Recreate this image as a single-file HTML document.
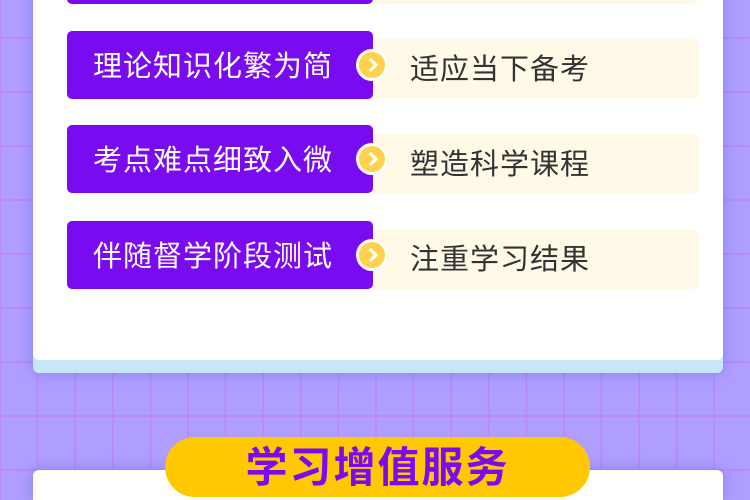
<!DOCTYPE html>
<html style="width:750px;height:500px;overflow:hidden"><head><meta charset="utf-8"><style>
*{margin:0;padding:0;box-sizing:border-box}
body{width:750px;height:500px;overflow:hidden;position:relative;font-family:"Liberation Sans","Noto Sans CJK SC",sans-serif;
background-color:#b09eff;
background-image:linear-gradient(#b98af9 2px,transparent 2px),linear-gradient(90deg,#b98af9 2px,transparent 2px);
background-size:37.6px 54px;background-position:-1px -17px,-1px 0}
.card{position:absolute;left:33px;width:690px;background:#fff;border-radius:6px;box-shadow:0 0 14px rgba(90,110,230,.55)}
.l{position:absolute;left:67px;width:306px;height:68px;background:#7a0af0;border-radius:5px;color:#fff;font-size:29px;line-height:72px;padding-left:26px;letter-spacing:1px;white-space:nowrap}
.r{position:absolute;left:373px;width:326px;height:60px;background:#fff9e8;border-radius:0 6px 6px 0;color:#333;font-size:29px;line-height:62px;padding-left:37px;letter-spacing:1px}
.c{position:absolute;left:356px;width:32px;height:32px;border-radius:50%;background:#ffd24d;border:3px solid #fff}
.c:after{content:"";position:absolute;left:7px;top:8px;width:7px;height:7px;border-right:3px solid #fff;border-top:3px solid #fff;transform:rotate(45deg)}
</style></head><body>
<div class="card" style="top:-20px;height:393px;background:#c6e7fa"></div>
<div class="card" style="top:-20px;height:380px;box-shadow:none"></div>
<div class="l" style="top:-64px"></div><div class="r" style="top:-56px"></div>
<div class="r" style="top:39px">适应当下备考</div>
<div class="l" style="top:31px">理论知识化繁为简</div>
<div class="c" style="top:49px"></div>
<div class="r" style="top:134px">塑造科学课程</div>
<div class="l" style="top:125px">考点难点细致入微</div>
<div class="c" style="top:143px"></div>
<div class="r" style="top:229px">注重学习结果</div>
<div class="l" style="top:221px">伴随督学阶段测试</div>
<div class="c" style="top:239px"></div>
<div class="card" style="top:470px;height:30px;border-radius:6px 6px 0 0"></div>
<div style="position:absolute;left:165px;top:437px;width:425px;height:60px;background:#ffc800;border-radius:30px;color:#7a0af0;font-size:42px;font-weight:bold;text-align:center;line-height:62px;letter-spacing:2px">学习增值服务</div>
</body></html>
